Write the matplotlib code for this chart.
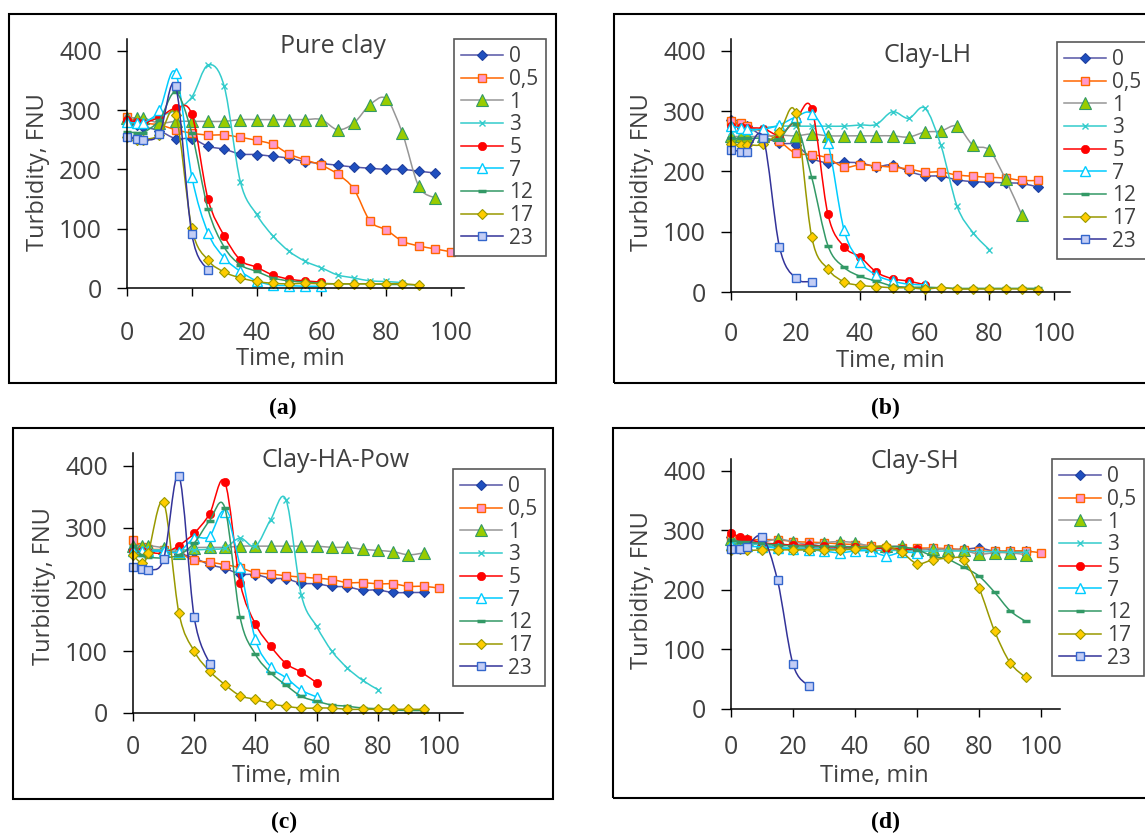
import numpy as np
import matplotlib
matplotlib.use('Agg')
import matplotlib.pyplot as plt
from matplotlib.lines import Line2D
from matplotlib.patches import PathPatch, Rectangle
from matplotlib.path import Path

plt.rcParams['font.family'] = ['Open Sans', 'DejaVu Sans']

# sampling times (min) shared by all series; a series stops where its list ends
TIMES = [0, 3, 5, 10, 15, 20, 25, 30, 35, 40, 45, 50, 55, 60, 65, 70, 75, 80,
         85, 90, 95, 100]
DOSES = ['0', '0,5', '1', '3', '5', '7', '12', '17', '23']

# turbidity (FNU), one list per dose, same order as DOSES
PURE_CLAY = [
    [280, 275, 272, 265, 252, 252, 239, 234, 226, 225, 222, 219, 213, 210, 207, 204, 202, 200, 200, 197, 194],
    [289, 280, 278, 275, 267, 261, 258, 258, 254, 249, 242, 226, 216, 207, 192, 167, 113, 98, 79, 71, 66, 61],
    [287, 287, 287, 278, 281, 281, 281, 281, 284, 284, 284, 284, 284, 284, 267, 278, 309, 319, 261, 172, 152],
    [285, 280, 280, 290, 300, 322, 376, 340, 179, 124, 88, 62, 45, 34, 22, 17, 12, 11, 9],
    [283, 280, 278, 288, 303, 293, 150, 88, 47, 35, 22, 15, 12, 10],
    [280, 278, 278, 300, 363, 188, 93, 51, 28, 12, 5, 4, 3, 3],
    [263, 262, 262, 283, 330, 261, 133, 69, 39, 28, 17, 12, 10, 8, 7, 7, 7, 6, 6, 5],
    [255, 250, 250, 258, 292, 101, 47, 27, 17, 11, 8, 7, 8, 7, 7, 7, 7, 7, 7, 5],
    [254, 252, 250, 260, 341, 91, 30],
]
CLAY_LH = [
    [285, 275, 275, 258, 247, 244, 222, 214, 215, 214, 208, 211, 200, 193, 192, 186, 183, 182, 181, 180, 174],
    [283, 280, 275, 265, 250, 230, 228, 222, 207, 211, 209, 207, 204, 199, 199, 194, 192, 190, 189, 185, 185],
    [258, 258, 258, 258, 260, 259, 262, 259, 259, 259, 259, 259, 257, 265, 267, 275, 243, 235, 187, 128],
    [266, 265, 265, 272, 275, 275, 275, 275, 275, 277, 278, 299, 288, 305, 243, 142, 98, 70],
    [276, 273, 272, 271, 261, 285, 304, 129, 75, 58, 33, 22, 18, 12],
    [275, 272, 270, 270, 277, 290, 296, 247, 103, 50, 28, 18, 13, 12],
    [255, 255, 255, 255, 254, 278, 190, 77, 41, 26, 18, 10, 8, 8, 7, 6, 6, 6, 6, 6, 6],
    [245, 244, 244, 245, 265, 297, 91, 38, 17, 11, 9, 7, 7, 5, 7, 5, 5, 5, 5, 5, 4],
    [236, 233, 233, 255, 75, 23, 17],
]
CLAY_HA_POW = [
    [265, 262, 262, 262, 258, 251, 240, 234, 225, 224, 218, 217, 210, 209, 205, 204, 199, 199, 195, 195, 195],
    [280, 268, 265, 264, 259, 247, 244, 240, 235, 227, 225, 222, 220, 218, 216, 211, 211, 209, 209, 205, 205, 202],
    [271, 271, 271, 267, 259, 267, 268, 268, 270, 270, 270, 270, 270, 270, 268, 268, 265, 263, 261, 256, 259],
    [264, 264, 264, 264, 264, 264, 265, 267, 283, 270, 313, 345, 191, 140, 100, 73, 53, 38],
    [262, 262, 260, 259, 271, 291, 322, 374, 211, 144, 108, 80, 66, 49],
    [262, 262, 262, 262, 261, 283, 286, 326, 237, 119, 75, 57, 37, 26],
    [271, 255, 252, 251, 256, 275, 311, 332, 155, 95, 65, 45, 27, 19, 13, 11, 8, 7, 5, 4, 4],
    [255, 243, 259, 341, 162, 100, 68, 46, 28, 22, 15, 11, 8, 8, 8, 6, 6, 6, 6, 6, 6],
    [236, 233, 232, 249, 384, 155, 80],
]
CLAY_SH = [
    [288, 283, 280, 275, 272, 270, 270, 270, 270, 270, 270, 270, 268, 268, 268, 268, 268, 270, 265, 265, 265],
    [285, 284, 284, 284, 284, 281, 280, 279, 277, 276, 274, 270, 270, 270, 270, 269, 267, 265, 265, 265, 265, 262],
    [285, 285, 283, 280, 285, 281, 276, 279, 281, 279, 273, 273, 273, 267, 269, 267, 266, 260, 262, 262, 259],
    [280, 278, 278, 275, 272, 270, 270, 268, 268, 267, 267, 266, 266, 265, 265, 265, 265, 264, 264, 263, 263],
    [296, 288, 286, 279, 277, 275, 275, 273, 272, 272, 270, 270, 268, 268],
    [275, 274, 273, 272, 270, 268, 267, 265, 262, 265, 265, 257, 263, 262],
    [283, 281, 280, 278, 275, 274, 273, 273, 273, 272, 272, 272, 272, 267, 257, 251, 238, 223, 196, 165, 147],
    [267, 268, 266, 267, 267, 267, 267, 267, 267, 269, 272, 273, 263, 244, 250, 253, 250, 203, 131, 78, 53],
    [269, 269, 272, 289, 216, 75, 39],
]
SERIES = [PURE_CLAY, CLAY_LH, CLAY_HA_POW, CLAY_SH]
TITLES = ['Pure clay', 'Clay-LH', 'Clay-HA-Pow', 'Clay-SH']
TAGS = ['(a)', '(b)', '(c)', '(d)']

# Excel-like series styles
STYLES = [
    dict(color='#5555A5', marker='D', ms=5.5, mfc='#1F4FBF', mec='#1F3F9F', mew=0.8),
    dict(color='#FF6600', marker='s', ms=5.5, mfc='#FF99CC', mec='#FF6600', mew=1.0),
    dict(color='#969696', marker='^', ms=8.5, mfc='#99CC00', mec='#339966', mew=0.8),
    dict(color='#33CCCC', marker='x', ms=5, mfc='#33CCCC', mec='#33CCCC', mew=1.0),
    dict(color='#FF0000', marker='o', ms=6, mfc='#FF0000', mec='#FF0000', mew=0.5),
    dict(color='#00CCFF', marker='^', ms=6.5, mfc='white', mec='#00CCFF', mew=1.0),
    dict(color='#339966', marker='_', ms=6, mfc='#339966', mec='#339966', mew=2.5),
    dict(color='#999900', marker='D', ms=5, mfc='#FFCC00', mec='#999900', mew=0.8),
    dict(color='#333399', marker='s', ms=5.5, mfc='#C3CDF5', mec='#3366CC', mew=1.0),
]

# pixel geometry of each panel (1145 x 836 canvas)
W, H = 1145, 836
PANELS = [
    dict(left=127, bottom=288, ppx=3.24, ppy=0.593, xmax=104, box=(9, 14, 556, 383), xpad=18,
         legend=(454, 39), title=(333, 53), xlabel=(290, 359), ylabel=(38, 172), tag=(283, 408)),
    dict(left=731, bottom=292, ppx=3.23, ppy=0.603, xmax=105, box=(614, 14, 1160, 383), xpad=15.5,
         legend=(1057, 42), title=(928, 62), xlabel=(890, 361), ylabel=(642, 172), tag=(885, 408)),
    dict(left=133, bottom=713, ppx=3.06, ppy=0.618, xmax=108, box=(13, 428, 553, 799), xpad=10,
         legend=(453, 469), title=(336, 467), xlabel=(286, 776), ylabel=(44, 586), tag=(284, 822)),
    dict(left=731, bottom=709, ppx=3.10, ppy=0.596, xmax=106, box=(613, 428, 1160, 798), xpad=12.5,
         legend=(1052, 459), title=(915, 468), xlabel=(874, 776), ylabel=(642, 590), tag=(885, 822)),
]
TEXT = '#404040'


def fx(x):
    return x / W


def fy(y):
    return 1 - y / H


def smooth_path(x, y):
    # Catmull-Rom curve through the points, like Excel's smoothed line
    pts = np.column_stack([x, y]).astype(float)
    n = len(pts)
    verts, codes = [pts[0]], [Path.MOVETO]
    for i in range(n - 1):
        p0 = pts[max(i - 1, 0)]
        p1 = pts[i]
        p2 = pts[i + 1]
        p3 = pts[min(i + 2, n - 1)]
        verts += [p1 + (p2 - p0) / 6, p2 - (p3 - p1) / 6, p2]
        codes += [Path.CURVE4] * 3
    return Path(verts, codes)


fig = plt.figure(figsize=(W / 100, H / 100), dpi=100)

for data, title, tag, geo in zip(SERIES, TITLES, TAGS, PANELS):
    l, t, r, b = geo['box']
    fig.add_artist(Rectangle((fx(l), fy(b)), (r - l) / W, (b - t) / H,
                             transform=fig.transFigure, fill=False,
                             ec='black', lw=1.5))

    width = geo['xmax'] * geo['ppx']
    height = 420 * geo['ppy']
    ax = fig.add_axes([fx(geo['left']), fy(geo['bottom']), width / W, height / H])
    ax.set_xlim(0, geo['xmax'])
    ax.set_ylim(0, 420)

    for i, (vals, st) in enumerate(zip(data, STYLES)):
        tt = TIMES[:len(vals)]
        ax.add_patch(PathPatch(smooth_path(tt, vals), fill=False, ec=st['color'],
                               lw=1.1, clip_on=False, zorder=2 + i * 0.01))
        ax.plot(tt, vals, ls='none', marker=st['marker'], ms=st['ms'],
                mfc=st['mfc'], mec=st['mec'], mew=st['mew'], clip_on=False,
                zorder=2.005 + i * 0.01)

    ax.set_xticks([0, 20, 40, 60, 80, 100])
    ax.set_yticks([0, 100, 200, 300, 400])
    ax.tick_params(axis='x', direction='out', length=6, width=1, pad=geo['xpad'],
                   labelsize=18, labelcolor=TEXT)
    ax.tick_params(axis='y', direction='out', length=7, width=1, pad=11,
                   labelsize=18, labelcolor=TEXT)
    for side in ['top', 'right']:
        ax.spines[side].set_visible(False)
    for side in ['left', 'bottom']:
        ax.spines[side].set_linewidth(1.1)

    handles = [Line2D([], [], color=st['color'], lw=1.1, marker=st['marker'],
                      ms=st['ms'], mfc=st['mfc'], mec=st['mec'], mew=st['mew'])
               for st in STYLES]
    lx, ly = geo['legend']
    leg = ax.legend(handles, DOSES, loc='upper left', bbox_to_anchor=(fx(lx), fy(ly)),
                    bbox_transform=fig.transFigure, borderaxespad=0, fontsize=15,
                    frameon=True, fancybox=False, framealpha=1, edgecolor='#595959',
                    handlelength=2.0, handletextpad=0.3, labelspacing=0.08,
                    borderpad=0.35, labelcolor=TEXT)
    leg.get_frame().set_linewidth(1.2)

    fig.text(fx(geo['title'][0]), fy(geo['title'][1]), title, ha='center',
             va='baseline', fontsize=18, color=TEXT)
    fig.text(fx(geo['xlabel'][0]), fy(geo['xlabel'][1]), 'Time, min', ha='center',
             va='center', fontsize=17, color=TEXT)
    fig.text(fx(geo['ylabel'][0]), fy(geo['ylabel'][1]), 'Turbidity, FNU', ha='center',
             va='center', rotation=90, fontsize=17, color=TEXT)
    fig.text(fx(geo['tag'][0]), fy(geo['tag'][1]), tag, ha='center', va='center',
             fontsize=17, fontweight='bold', family='Liberation Serif', color='black')

fig.savefig('out.png', dpi=100)
